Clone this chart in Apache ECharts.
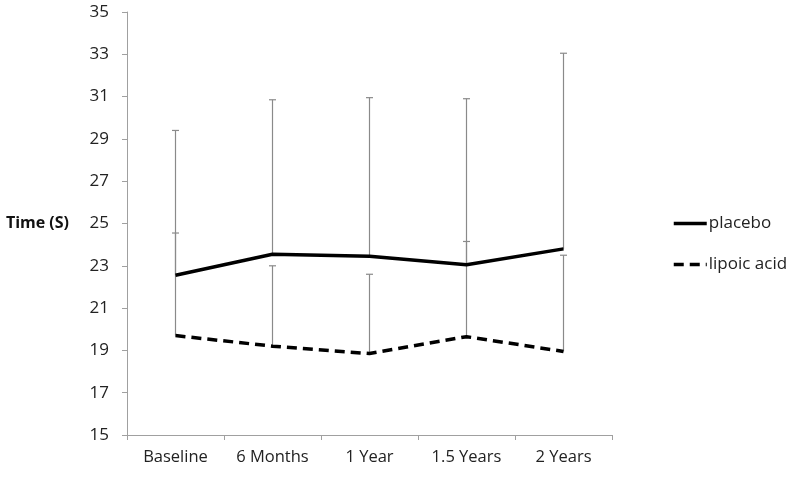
<!DOCTYPE html>
<html>
<head>
<meta charset="utf-8">
<script src="https://cdn.jsdelivr.net/npm/echarts@6/dist/echarts.min.js"></script>
<style>
  html, body { margin: 0; padding: 0; background: #fff; }
  #chart { width: 800px; height: 480px; }
</style>
</head>
<body>
<div id="chart"></div>
<script>
const categories = ['Baseline', '6 Months', '1 Year', '1.5 Years', '2 Years'];
const placebo = [22.55, 23.55, 23.45, 23.05, 23.8];
const placeboUpper = [29.4, 30.85, 30.95, 30.9, 33.05];
const lipoic = [19.7, 19.2, 18.85, 19.65, 18.95];
const lipoicUpper = [24.55, 23.0, 22.6, 24.15, 23.5];

const font = '"Open Sans", "Liberation Sans", sans-serif';

// error bars go up only, from the mean to the cap
const errData = (vals, ups) => vals.map((v, i) => [i, v, ups[i]]);

const renderBar = (params, api) => {
    const lo = api.coord([api.value(0), api.value(1)]);
    const hi = api.coord([api.value(0), api.value(2)]);
    const half = 3.5;
    const style = { stroke: '#8a8a8a', lineWidth: 1.2 };
    return {
        type: 'group',
        children: [
            { type: 'line', shape: { x1: lo[0], y1: lo[1], x2: hi[0], y2: hi[1] }, style: style },
            { type: 'line', shape: { x1: hi[0] - half, y1: hi[1], x2: hi[0] + half, y2: hi[1] }, style: style }
        ]
    };
};

const chart = echarts.init(document.getElementById('chart'));
let option = {
    backgroundColor: '#fff',
    animation: false,
    grid: { left: 127, right: 188, top: 12, bottom: 45 },
    legend: {
        orient: 'vertical',
        left: 667,
        top: 210,
        itemWidth: 33,
        itemHeight: 12,
        itemGap: 24,
        data: ['placebo', 'lipoic acid'],
        itemStyle: { opacity: 0 },
        lineStyle: { width: 3.5 },
        textStyle: { fontFamily: font, fontSize: 17, color: '#222', padding: [0, 0, 0, -3] }
    },
    xAxis: {
        type: 'category',
        data: categories,
        boundaryGap: true,
        axisLine: { lineStyle: { color: '#a0a0a0', width: 1 } },
        axisTick: { show: true, length: 5, lineStyle: { color: '#a0a0a0' } },
        axisLabel: { fontFamily: font, fontSize: 16.5, color: '#222', margin: 14 }
    },
    yAxis: {
        type: 'value',
        min: 15,
        max: 35,
        interval: 2,
        name: 'Time (S)',
        nameLocation: 'middle',
        nameRotate: 0,
        nameGap: 58,
        nameTextStyle: { fontFamily: font, fontSize: 16, fontWeight: 'bold', color: '#111', align: 'right' },
        splitLine: { show: false },
        axisLine: { show: true, lineStyle: { color: '#a0a0a0', width: 1 } },
        axisTick: { show: true, length: 5, lineStyle: { color: '#a0a0a0' } },
        axisLabel: { fontFamily: font, fontSize: 17, color: '#222', margin: 18 }
    },
    series: [
        {
            name: 'placebo-err',
            type: 'custom',
            renderItem: renderBar,
            data: errData(placebo, placeboUpper),
            z: 1
        },
        {
            name: 'lipoic-err',
            type: 'custom',
            renderItem: renderBar,
            data: errData(lipoic, lipoicUpper),
            z: 1
        },
        {
            name: 'placebo',
            type: 'line',
            data: placebo,
            symbol: 'none',
            lineStyle: { color: '#000', width: 3.5 },
            itemStyle: { color: '#000' },
            z: 3
        },
        {
            name: 'lipoic acid',
            type: 'line',
            data: lipoic,
            symbol: 'none',
            lineStyle: { color: '#000', width: 3.5, type: [10, 6] },
            itemStyle: { color: '#000' },
            z: 3
        }
    ]
};
chart.setOption(option);
</script>
</body>
</html>
